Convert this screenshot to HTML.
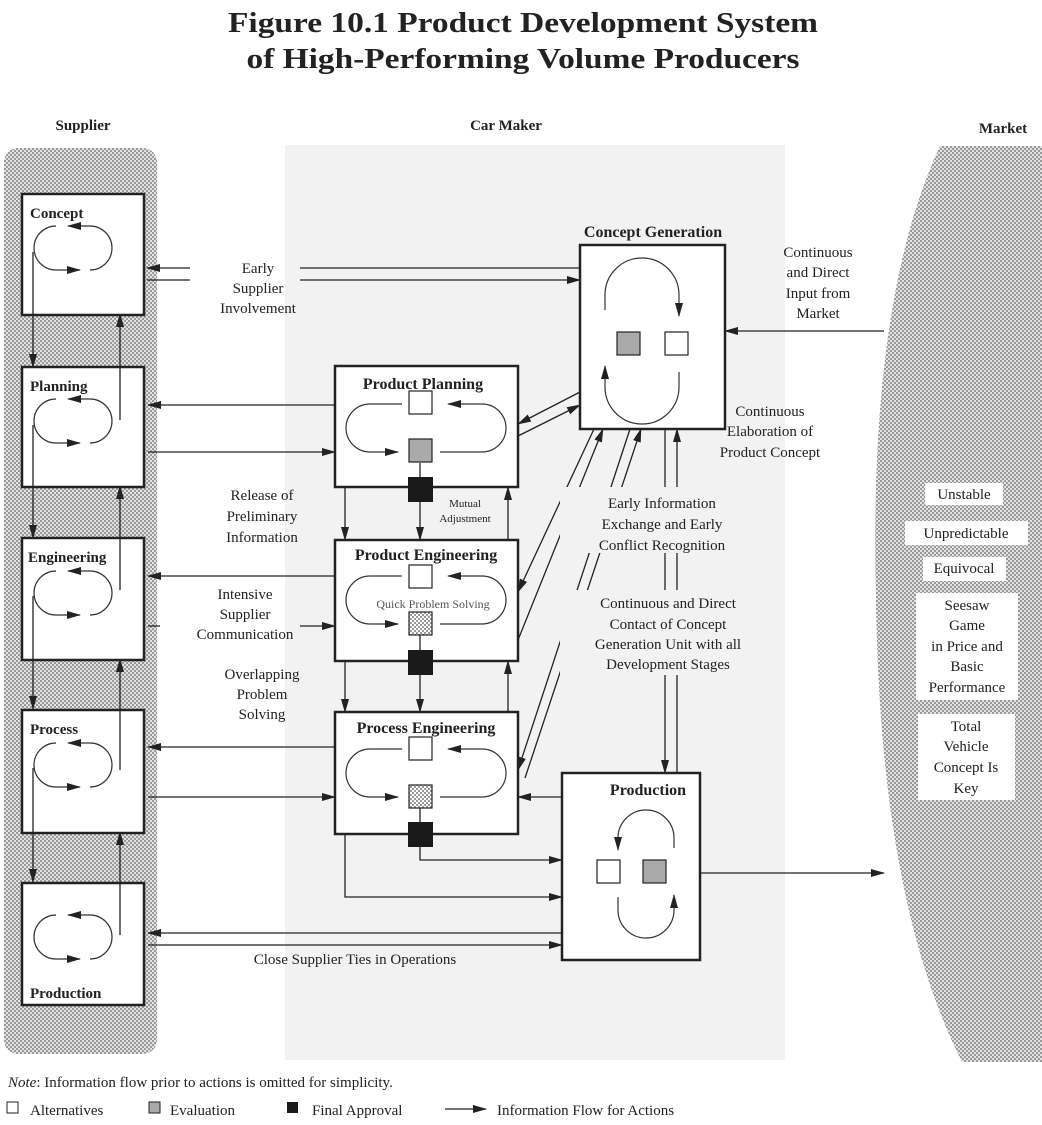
<!DOCTYPE html>
<html><head><meta charset="utf-8"><style>
html,body{margin:0;padding:0;background:#fff;}
svg{display:block;font-family:"Liberation Serif",serif;}
</style></head><body>
<svg width="1042" height="1125" viewBox="0 0 1042 1125" xmlns="http://www.w3.org/2000/svg">
<defs>
<pattern id="dots" width="4" height="4" patternUnits="userSpaceOnUse">
<rect width="4" height="4" fill="#e2e2e2"/><rect width="2" height="2" fill="#9a9a9a"/><rect x="2" y="2" width="2" height="2" fill="#9a9a9a"/>
</pattern>
<pattern id="fine" width="4" height="4" patternUnits="userSpaceOnUse">
<rect width="4" height="4" fill="#fff"/><rect width="2" height="2" fill="#999"/><rect x="2" y="2" width="2" height="2" fill="#999"/>
</pattern>
<marker id="a" markerWidth="14" markerHeight="8" refX="13" refY="4" orient="auto" markerUnits="userSpaceOnUse">
<path d="M0,0 L14,4 L0,8 Z" fill="#222"/></marker>
</defs>
<g fill="#222" text-anchor="middle">
<text x="523" y="32" font-size="29" font-weight="bold" textLength="590" lengthAdjust="spacingAndGlyphs">Figure 10.1 Product Development System</text>
<text x="523" y="68" font-size="29" font-weight="bold" textLength="553" lengthAdjust="spacingAndGlyphs">of High-Performing Volume Producers</text>
<text x="83" y="130" font-size="15" font-weight="bold">Supplier</text>
<text x="506" y="130" font-size="15" font-weight="bold">Car Maker</text>
<text x="1003" y="133" font-size="15" font-weight="bold">Market</text>
</g>
<!-- backgrounds -->
<rect x="285" y="145" width="500" height="915" fill="#f2f2f2"/>
<rect x="4" y="148" width="153" height="906" rx="14" fill="url(#dots)"/>
<path d="M940 146 Q868 300 876 600 Q880 900 962 1062 L1042 1062 L1042 146 Z" fill="url(#dots)"/>

<g stroke="#222" fill="none" stroke-width="1.3">
<line x1="33" y1="262" x2="33" y2="367" marker-end="url(#a)"/>
<line x1="33" y1="435" x2="33" y2="538" marker-end="url(#a)"/>
<line x1="33" y1="605" x2="33" y2="709" marker-end="url(#a)"/>
<line x1="33" y1="778" x2="33" y2="882" marker-end="url(#a)"/>
<line x1="120" y1="418" x2="120" y2="314" marker-end="url(#a)"/>
<line x1="120" y1="585" x2="120" y2="486" marker-end="url(#a)"/>
<line x1="120" y1="760" x2="120" y2="659" marker-end="url(#a)"/>
<line x1="120" y1="932" x2="120" y2="832" marker-end="url(#a)"/>
</g>
<g fill="#fff" stroke="#222" stroke-width="2.5">
<rect x="22" y="194" width="122" height="121"/>
<rect x="22" y="367" width="122" height="120"/>
<rect x="22" y="538" width="122" height="122"/>
<rect x="22" y="710" width="122" height="123"/>
<rect x="22" y="883" width="122" height="122"/>
</g>
<g stroke="#222" fill="none" stroke-width="1.3">
<line x1="33" y1="252" x2="33" y2="315"/><line x1="33" y1="425" x2="33" y2="487"/><line x1="33" y1="596" x2="33" y2="660"/><line x1="33" y1="768" x2="33" y2="833"/>
<line x1="120" y1="367" x2="120" y2="420"/><line x1="120" y1="538" x2="120" y2="590"/><line x1="120" y1="710" x2="120" y2="770"/><line x1="120" y1="883" x2="120" y2="935"/>
</g>
<g fill="#222" font-size="15" font-weight="bold">
<text x="30" y="218">Concept</text><text x="30" y="391">Planning</text><text x="28" y="562">Engineering</text><text x="30" y="734">Process</text><text x="30" y="998">Production</text>
</g>
<g stroke="#333" fill="none" stroke-width="1.2">
<g id="sl">
<path d="M56 226 A22 22 0 0 0 56 270 L80 270" marker-end="url(#a)"/>
<path d="M90 270 A22 22 0 0 0 90 226 L68 226" marker-end="url(#a)"/>
</g>
<use href="#sl" y="173"/><use href="#sl" y="345"/><use href="#sl" y="517"/><use href="#sl" y="689"/>
</g>

<g fill="#fff" stroke="#222" stroke-width="2.5">
<rect x="335" y="366" width="183" height="121"/>
<rect x="335" y="540" width="183" height="121"/>
<rect x="335" y="712" width="183" height="122"/>
<rect x="580" y="245" width="145" height="184"/>
<rect x="562" y="773" width="138" height="187"/>
</g>
<g fill="#222" font-size="16" font-weight="bold" text-anchor="middle">
<text x="423" y="389">Product Planning</text>
<text x="426" y="560">Product Engineering</text>
<text x="426" y="733">Process Engineering</text>
<text x="653" y="237">Concept Generation</text>
<text x="648" y="795">Production</text>
</g>
<g stroke="#333" fill="none" stroke-width="1.2">
<g id="cl">
<path d="M402 404 L370 404 A24 24 0 0 0 370 452 L398 452" marker-end="url(#a)"/>
<path d="M440 452 L482 452 A24 24 0 0 0 482 404 L448 404" marker-end="url(#a)"/>
</g>
<use href="#cl" y="172"/><use href="#cl" y="345"/>
<path d="M605 310 L605 295 A37 37 0 0 1 679 295 L679 316" marker-end="url(#a)"/>
<path d="M679 372 L679 387 A37 37 0 0 1 605 387 L605 366" marker-end="url(#a)"/>
<path d="M674 848 L674 838 A28 28 0 0 0 618 838 L618 850" marker-end="url(#a)"/>
<path d="M618 897 L618 910 A28 28 0 0 0 674 910 L674 895" marker-end="url(#a)"/>
</g>
<g stroke="#222" stroke-width="1.2">
<rect x="409" y="391" width="23" height="23" fill="#fff"/><rect x="409" y="439" width="23" height="23" fill="#aaa"/>
<rect x="409" y="565" width="23" height="23" fill="#fff"/><rect x="409" y="612" width="23" height="23" fill="url(#fine)"/>
<rect x="409" y="737" width="23" height="23" fill="#fff"/><rect x="409" y="785" width="23" height="23" fill="url(#fine)"/>
<rect x="617" y="332" width="23" height="23" fill="#aaa"/><rect x="665" y="332" width="23" height="23" fill="#fff"/>
<rect x="597" y="860" width="23" height="23" fill="#fff"/><rect x="643" y="860" width="23" height="23" fill="#aaa"/>
</g>
<g fill="#1a1a1a">
<rect x="408" y="477" width="25" height="25"/><rect x="408" y="650" width="25" height="25"/><rect x="408" y="822" width="25" height="25"/>
</g>
<g stroke="#222" fill="none" stroke-width="1.3">
<line x1="345" y1="487" x2="345" y2="540" marker-end="url(#a)"/>
<line x1="420" y1="502" x2="420" y2="540" marker-end="url(#a)"/>
<line x1="508" y1="540" x2="508" y2="487" marker-end="url(#a)"/>
<line x1="345" y1="661" x2="345" y2="712" marker-end="url(#a)"/>
<line x1="420" y1="675" x2="420" y2="712" marker-end="url(#a)"/>
<line x1="508" y1="712" x2="508" y2="661" marker-end="url(#a)"/>
<line x1="420" y1="463" x2="420" y2="477"/><line x1="420" y1="635" x2="420" y2="650"/><line x1="420" y1="808" x2="420" y2="822"/>
<line x1="190" y1="268" x2="147" y2="268" marker-end="url(#a)"/>
<line x1="147" y1="280" x2="190" y2="280"/>
<line x1="300" y1="268" x2="580" y2="268"/>
<line x1="300" y1="280" x2="580" y2="280" marker-end="url(#a)"/>
<line x1="335" y1="405" x2="148" y2="405" marker-end="url(#a)"/>
<line x1="148" y1="452" x2="335" y2="452" marker-end="url(#a)"/>
<line x1="335" y1="576" x2="148" y2="576" marker-end="url(#a)"/>
<line x1="148" y1="626" x2="160" y2="626"/>
<line x1="300" y1="626" x2="335" y2="626" marker-end="url(#a)"/>
<line x1="335" y1="747" x2="148" y2="747" marker-end="url(#a)"/>
<line x1="148" y1="797" x2="335" y2="797" marker-end="url(#a)"/>
<line x1="562" y1="933" x2="148" y2="933" marker-end="url(#a)"/>
<line x1="148" y1="945" x2="562" y2="945" marker-end="url(#a)"/>
<line x1="562" y1="797" x2="518" y2="797" marker-end="url(#a)"/>
<path d="M420 847 L420 860 L562 860" marker-end="url(#a)"/>
<path d="M345 834 L345 897 L562 897" marker-end="url(#a)"/>
<line x1="700" y1="873" x2="884" y2="873" marker-end="url(#a)"/>
<line x1="884" y1="331" x2="725" y2="331" marker-end="url(#a)"/>
<line x1="665" y1="429" x2="665" y2="773" marker-end="url(#a)"/>
<line x1="677" y1="773" x2="677" y2="429" marker-end="url(#a)"/>
<line x1="580" y1="392" x2="518" y2="424" marker-end="url(#a)"/>
<line x1="518" y1="436" x2="580" y2="405" marker-end="url(#a)"/>
<line x1="594" y1="429" x2="518" y2="592" marker-end="url(#a)"/>
<line x1="518" y1="640" x2="603" y2="429" marker-end="url(#a)"/>
<line x1="630" y1="429" x2="518" y2="770" marker-end="url(#a)"/>
<line x1="525" y1="778" x2="641" y2="429" marker-end="url(#a)"/>
</g>
<g fill="#f2f2f2">
<rect x="560" y="487" width="200" height="66"/>
<rect x="560" y="590" width="210" height="85"/>
</g>
<g fill="#222" font-size="15" text-anchor="middle">
<text x="258" y="273">Early</text><text x="258" y="293">Supplier</text><text x="258" y="313">Involvement</text>
<text x="818" y="257">Continuous</text><text x="818" y="277">and Direct</text><text x="818" y="298">Input  from</text><text x="818" y="318">Market</text>
<text x="770" y="416">Continuous</text><text x="770" y="436">Elaboration of</text><text x="770" y="457">Product Concept</text>
<text x="262" y="500">Release of</text><text x="262" y="521">Preliminary</text><text x="262" y="542">Information</text>
<text x="662" y="508">Early Information</text><text x="662" y="529">Exchange and Early</text><text x="662" y="550">Conflict Recognition</text>
<text x="245" y="599">Intensive</text><text x="245" y="619">Supplier</text><text x="245" y="639">Communication</text>
<text x="668" y="608">Continuous and Direct</text><text x="668" y="629">Contact of Concept</text><text x="668" y="649">Generation Unit with all</text><text x="668" y="669">Development Stages</text>
<text x="262" y="679">Overlapping</text><text x="262" y="699">Problem</text><text x="262" y="719">Solving</text>
<text x="355" y="964">Close Supplier Ties in Operations</text>
<text x="465" y="507" font-size="11">Mutual</text><text x="465" y="522" font-size="11">Adjustment</text>
<text x="433" y="608" font-size="12" fill="#555">Quick Problem Solving</text>
</g>
<g fill="#fff">
<rect x="925" y="483" width="78" height="22"/><rect x="905" y="521" width="123" height="24"/>
<rect x="923" y="557" width="83" height="24"/><rect x="916" y="593" width="102" height="107"/>
<rect x="918" y="714" width="97" height="86"/>
</g>
<g fill="#222" font-size="15" text-anchor="middle">
<text x="964" y="499">Unstable</text><text x="966" y="538">Unpredictable</text><text x="964" y="573">Equivocal</text>
<text x="967" y="610">Seesaw</text><text x="967" y="630">Game</text><text x="967" y="651">in Price and</text><text x="967" y="671">Basic</text><text x="967" y="692">Performance</text>
<text x="966" y="731">Total</text><text x="966" y="751">Vehicle</text><text x="966" y="772">Concept Is</text><text x="966" y="793">Key</text>
</g>
<g fill="#222" font-size="15">
<text x="8" y="1087"><tspan font-style="italic">Note</tspan>:  Information flow prior to actions is omitted for simplicity.</text>
<rect x="7" y="1102" width="11" height="11" fill="#fff" stroke="#222"/>
<text x="30" y="1115">Alternatives</text>
<rect x="149" y="1102" width="11" height="11" fill="#aaa" stroke="#222"/>
<text x="170" y="1115">Evaluation</text>
<rect x="287" y="1102" width="11" height="11" fill="#1a1a1a"/>
<text x="312" y="1115">Final Approval</text>
<text x="497" y="1115">Information Flow for Actions</text>
</g>
<line x1="445" y1="1109" x2="486" y2="1109" stroke="#222" stroke-width="1.3" marker-end="url(#a)"/>
</svg>
</body></html>
